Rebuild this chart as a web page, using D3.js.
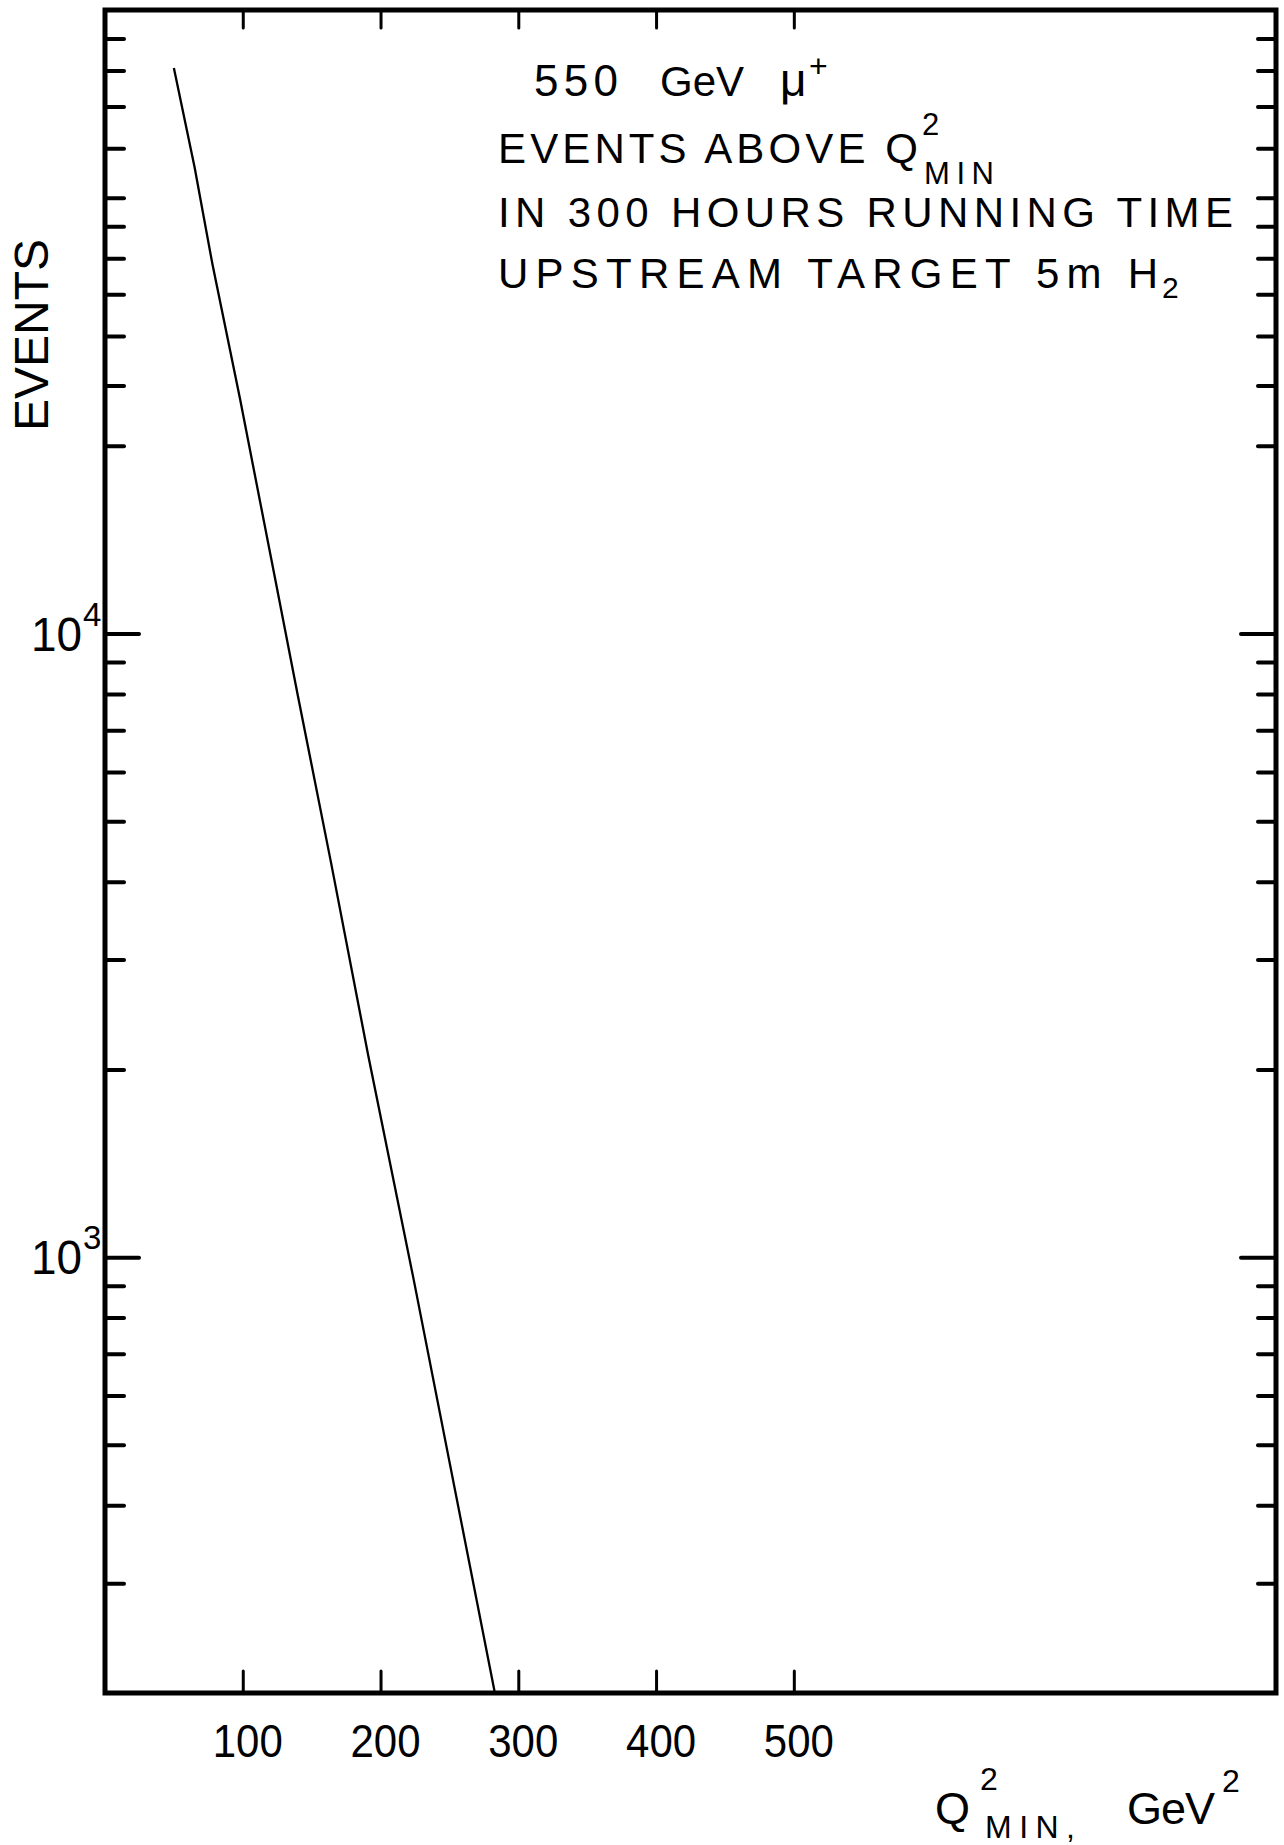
<!DOCTYPE html>
<html><head><meta charset="utf-8">
<script src="https://cdn.jsdelivr.net/npm/d3@7"></script>
<style>body{margin:0;background:#fff} svg{display:block}</style>
</head><body>
<svg id="chart" width="1284" height="1845"></svg>
<script>
// ---- data ----
const q2min  = [50, 65, 78, 98, 123, 140, 164, 191, 224, 283];
const events = [80700, 56000, 39100, 23800, 12400, 7950, 4300, 2110, 922, 200];
const xTicks = [100, 200, 300, 400, 500];
const xTickLabels = ["100", "200", "300", "400", "500"];
const yMajorTicks = [1000, 10000];
const yMajorExponents = ["3", "4"];
const yMinorTicks = [300, 400, 500, 600, 700, 800, 900,
                     2000, 3000, 4000, 5000, 6000, 7000, 8000, 9000,
                     20000, 25000, 30000, 35000, 40000, 45000, 50000, 60000, 70000, 80000, 90000];
const xDomain = [0, 850];
const yDomain = [200, 100000];

// ---- drawing ----
const svg = d3.select("#chart");
const FONT = "'Liberation Sans', Arial, sans-serif";
const ink = "#000";
const x = d3.scaleLinear().domain(xDomain).range([105, 1276]);
const y = d3.scaleLog().domain(yDomain).range([1693, 10]);

function styleAxis(g, w) {
  g.select(".domain").remove();
  g.selectAll(".tick line").attr("stroke", ink).attr("stroke-width", w).attr("stroke-linecap", "round");
  g.selectAll(".tick text").remove();
}

// left axis (ticks pointing inward)
svg.append("g").attr("transform", `translate(${x(xDomain[0])},0)`)
  .call(d3.axisRight(y).tickValues(yMinorTicks).tickSize(19).tickFormat(""))
  .call(g => styleAxis(g, 4));
svg.append("g").attr("transform", `translate(${x(xDomain[0])},0)`)
  .call(d3.axisRight(y).tickValues(yMajorTicks).tickSize(34).tickFormat(""))
  .call(g => styleAxis(g, 4));
// right axis
svg.append("g").attr("transform", `translate(${x(xDomain[1])},0)`)
  .call(d3.axisLeft(y).tickValues(yMinorTicks).tickSize(18).tickFormat(""))
  .call(g => styleAxis(g, 4));
svg.append("g").attr("transform", `translate(${x(xDomain[1])},0)`)
  .call(d3.axisLeft(y).tickValues(yMajorTicks).tickSize(35).tickFormat(""))
  .call(g => styleAxis(g, 4));
// top axis
svg.append("g").attr("transform", `translate(0,${y(yDomain[1])})`)
  .call(d3.axisBottom(x).tickValues(xTicks).tickSize(18).tickFormat(""))
  .call(g => styleAxis(g, 3));
// bottom axis
svg.append("g").attr("transform", `translate(0,${y(yDomain[0])})`)
  .call(d3.axisTop(x).tickValues(xTicks).tickSize(22).tickFormat(""))
  .call(g => styleAxis(g, 3));

// frame
svg.append("rect")
  .attr("x", x(xDomain[0])).attr("y", y(yDomain[1]))
  .attr("width", x(xDomain[1]) - x(xDomain[0])).attr("height", y(yDomain[0]) - y(yDomain[1]))
  .attr("fill", "none").attr("stroke", ink).attr("stroke-width", 5);

// curve
svg.append("path")
  .datum(q2min.map((q, i) => [q, events[i]]))
  .attr("fill", "none").attr("stroke", ink).attr("stroke-width", 2.3)
  .attr("stroke-linejoin", "round")
  .attr("d", d3.line().x(d => x(d[0])).y(d => y(d[1])));

// x tick labels
svg.append("g").selectAll("text").data(xTicks).join("text")
  .attr("x", d => x(d) + 5).attr("y", y(yDomain[0]) + 64)
  .attr("text-anchor", "middle")
  .attr("font-family", FONT).attr("font-size", 46)
  .attr("textLength", 70).attr("lengthAdjust", "spacingAndGlyphs")
  .text((d, i) => xTickLabels[i]);

// y tick labels 10^n
const yl = svg.append("g").attr("font-family", FONT).attr("fill", ink);
yl.selectAll("text.base").data(yMajorTicks).join("text").attr("class", "base")
  .attr("x", 82).attr("y", d => y(d) + 17).attr("text-anchor", "end")
  .attr("font-size", 48).attr("textLength", 51).attr("lengthAdjust", "spacingAndGlyphs")
  .text("10");
yl.selectAll("text.exp").data(yMajorTicks).join("text").attr("class", "exp")
  .attr("x", 83).attr("y", d => y(d) - 8)
  .attr("font-size", 33).text((d, i) => yMajorExponents[i]);

// y axis title
svg.append("text")
  .attr("transform", "translate(48,335) rotate(-90)")
  .attr("text-anchor", "middle").attr("font-family", FONT).attr("font-size", 48)
  .attr("textLength", 192).attr("lengthAdjust", "spacingAndGlyphs")
  .text("EVENTS");

// x axis title
const xt = svg.append("g").attr("font-family", FONT).attr("fill", ink);
xt.append("text").attr("x", 935).attr("y", 1824).attr("font-size", 45).text("Q");
xt.append("text").attr("x", 980).attr("y", 1790).attr("font-size", 32).text("2");
xt.append("text").attr("x", 985).attr("y", 1838).attr("font-size", 32)
  .attr("textLength", 90).attr("lengthAdjust", "spacing").text("MIN,");
xt.append("text").attr("x", 1127).attr("y", 1824).attr("font-size", 45)
  .attr("textLength", 88).attr("lengthAdjust", "spacing").text("GeV");
xt.append("text").attr("x", 1222).attr("y", 1792).attr("font-size", 32).text("2");

// annotation
const an = svg.append("g").attr("font-family", FONT).attr("fill", ink);
an.append("text").attr("x", 534).attr("y", 96).attr("font-size", 44)
  .attr("textLength", 84).attr("lengthAdjust", "spacing").text("550");
an.append("text").attr("x", 660).attr("y", 96).attr("font-size", 42).text("GeV");
an.append("text").attr("x", 780).attr("y", 96).attr("font-size", 46).text("\u03bc");
an.append("text").attr("x", 809).attr("y", 77).attr("font-size", 32).text("+");
an.append("text").attr("x", 498).attr("y", 163).attr("font-size", 42)
  .attr("textLength", 420).attr("lengthAdjust", "spacing").text("EVENTS ABOVE Q");
an.append("text").attr("x", 922).attr("y", 135).attr("font-size", 31).text("2");
an.append("text").attr("x", 924).attr("y", 184).attr("font-size", 31)
  .attr("textLength", 70).attr("lengthAdjust", "spacing").text("MIN");
an.append("text").attr("x", 498).attr("y", 227).attr("font-size", 42)
  .attr("textLength", 735).attr("lengthAdjust", "spacing").text("IN 300 HOURS RUNNING TIME");
an.append("text").attr("x", 498).attr("y", 288).attr("font-size", 42)
  .attr("textLength", 660).attr("lengthAdjust", "spacing").text("UPSTREAM TARGET 5m H");
an.append("text").attr("x", 1162).attr("y", 298).attr("font-size", 30).text("2");
</script>
</body></html>
